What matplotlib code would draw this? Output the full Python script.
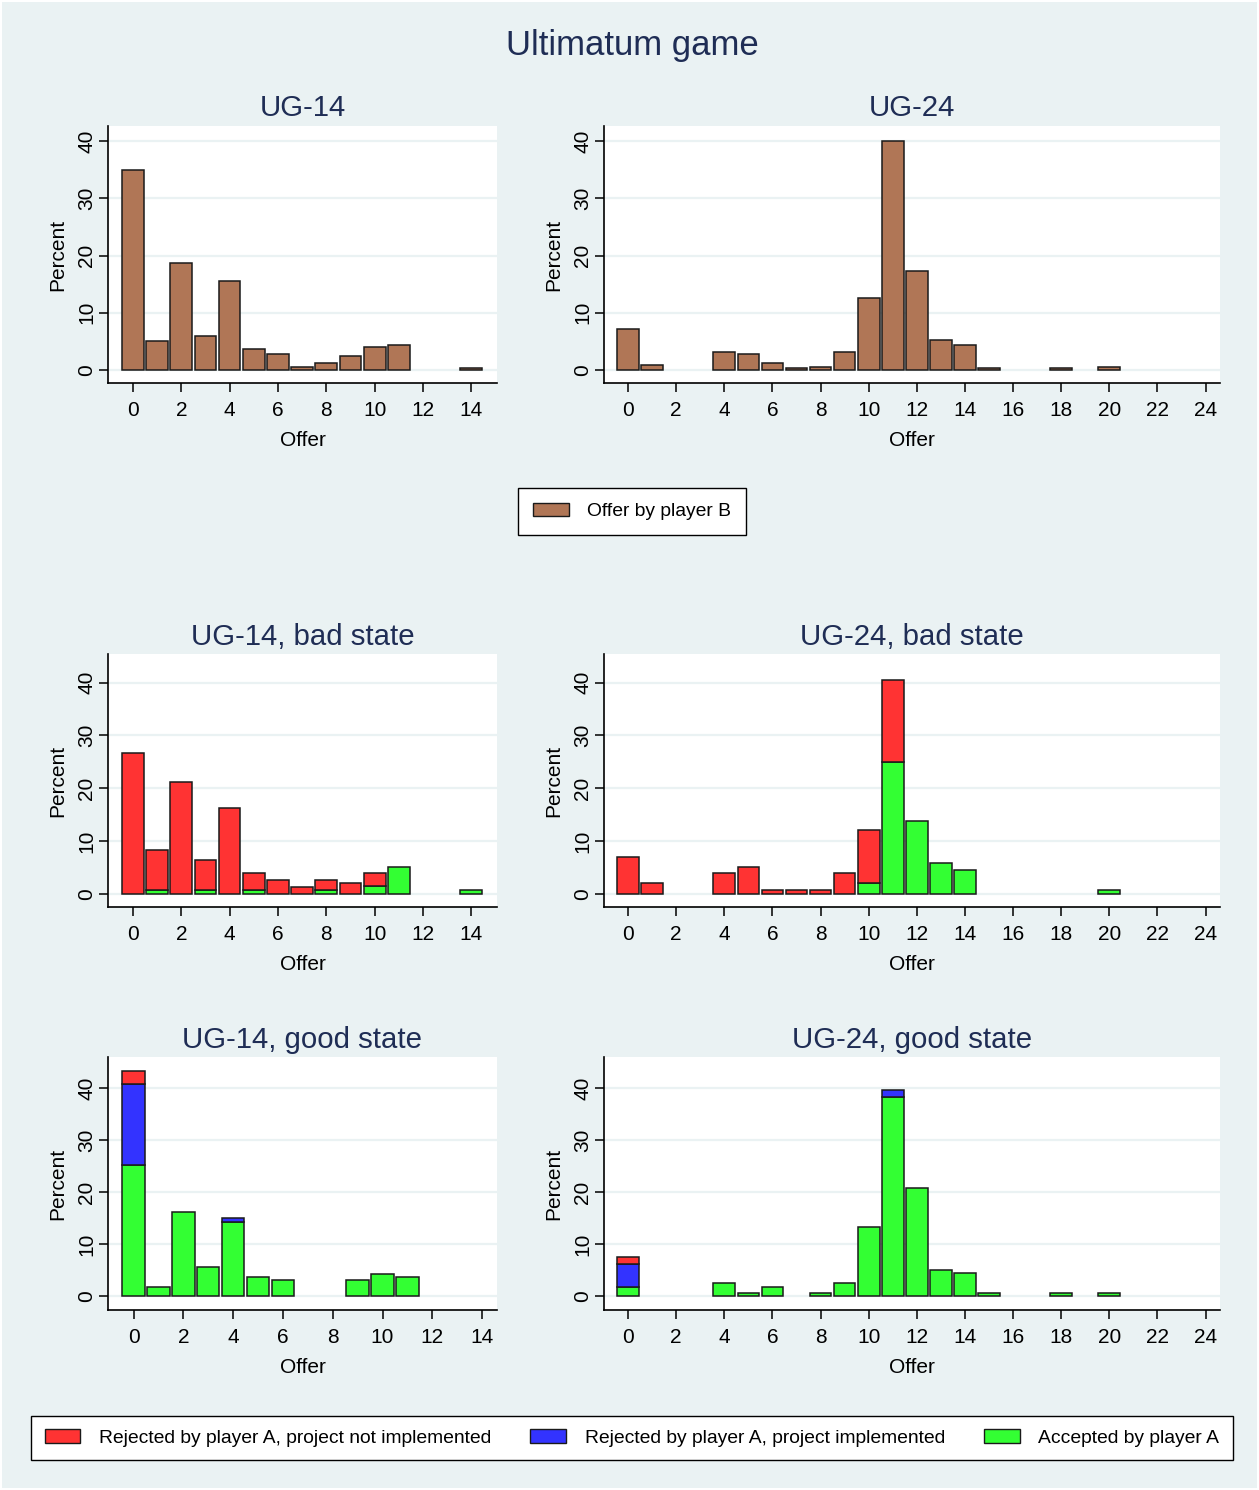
import numpy as np
import matplotlib.pyplot as plt
from matplotlib.patches import Patch, Rectangle

plt.rcParams['font.family'] = ['Liberation Sans', 'DejaVu Sans']

W, H = 1259, 1490
BG = '#eaf2f3'
NAVY = '#1f2d55'
BROWN = '#b07656'
RED = '#ff3333'
BLUE = '#3333ff'
GREEN = '#33ff33'
EDGE = '#1a1a1a'

OFFERS_14 = np.arange(15)
OFFERS_24 = np.arange(25)

# ── offer by player B (percent) ──────────────────────────────────────────────
UG14_ALL = [34.9, 5.1, 18.7, 6.0, 15.6, 3.7, 2.8, 0.6, 1.3, 2.5, 4.1, 4.4, 0, 0, 0.4]
UG24_ALL = [7.2, 0.9, 0, 0, 3.2, 2.8, 1.3, 0.4, 0.6, 3.2, 12.6, 40.0, 17.3,
            5.3, 4.4, 0.4, 0, 0, 0.4, 0, 0.6, 0, 0, 0, 0]

# ── bad state: accepted / rejected, not implemented ─────────────────────────
UG14_BAD_ACC = [0, 0.7, 0, 0.7, 0, 0.7, 0, 0, 0.7, 0, 1.4, 5.1, 0, 0, 0.7]
UG14_BAD_REJ = [26.7, 7.6, 21.1, 5.7, 16.3, 3.3, 2.6, 1.3, 1.9, 2.0, 2.6, 0, 0, 0, 0]
UG24_BAD_ACC = [0, 0, 0, 0, 0, 0, 0, 0, 0, 0, 2.0, 25.0, 13.8, 5.8, 4.5,
                0, 0, 0, 0, 0, 0.7, 0, 0, 0, 0]
UG24_BAD_REJ = [7.0, 2.0, 0, 0, 4.0, 5.1, 0.7, 0.7, 0.7, 4.0, 10.0, 15.4, 0, 0, 0,
                0, 0, 0, 0, 0, 0, 0, 0, 0, 0]

# ── good state: accepted / rejected implemented / rejected not implemented ──
UG14_GOOD_ACC = [25.2, 1.9, 16.3, 5.6, 14.4, 3.8, 3.1, 0, 0, 3.1, 4.4, 3.8, 0, 0, 0]
UG14_GOOD_IMP = [15.6, 0, 0, 0, 0.6, 0, 0, 0, 0, 0, 0, 0, 0, 0, 0]
UG14_GOOD_REJ = [2.5, 0, 0, 0, 0, 0, 0, 0, 0, 0, 0, 0, 0, 0, 0]
UG24_GOOD_ACC = [1.9, 0, 0, 0, 2.6, 0.6, 1.9, 0, 0.6, 2.6, 13.3, 38.3, 20.8,
                 5.1, 4.5, 0.6, 0, 0, 0.6, 0, 0.6, 0, 0, 0, 0]
UG24_GOOD_IMP = [4.3, 0, 0, 0, 0, 0, 0, 0, 0, 0, 0, 1.4, 0, 0, 0,
                 0, 0, 0, 0, 0, 0, 0, 0, 0, 0]
UG24_GOOD_REJ = [1.4, 0, 0, 0, 0, 0, 0, 0, 0, 0, 0, 0, 0, 0, 0,
                 0, 0, 0, 0, 0, 0, 0, 0, 0, 0]

TITLES = ["UG-14", "UG-24", "UG-14, bad state", "UG-24, bad state",
          "UG-14, good state", "UG-24, good state"]


def px_rect(x0, y0, x1, y1):
    return [x0 / W, 1 - y1 / H, (x1 - x0) / W, (y1 - y0) / H]


def stacked(ax, x, layers):
    bottom = np.zeros(len(x))
    for vals, color in layers:
        vals = np.asarray(vals, dtype=float)
        m = vals > 0
        ax.bar(x[m], vals[m], bottom=bottom[m], width=0.9, color=color,
               edgecolor=EDGE, linewidth=1.1, zorder=2)
        bottom += vals


def style(ax, xlim, ylim, xticks, left):
    ax.set_facecolor('white')
    ax.set_xlim(*xlim)
    ax.set_ylim(*ylim)
    ax.set_xticks(xticks)
    ax.set_yticks([0, 10, 20, 30, 40])
    for s in ('top', 'right'):
        ax.spines[s].set_visible(False)
    for s in ('left', 'bottom'):
        ax.spines[s].set_linewidth(1.2)
        ax.spines[s].set_color('black')
    ax.tick_params(length=6.5, width=1.1, labelsize=15)
    ax.tick_params(axis='x', pad=6.5)
    ax.tick_params(axis='y', pad=2.0)
    plt.setp(ax.get_yticklabels(), rotation=90, va='center')
    ax.yaxis.grid(True, color=BG, lw=1.6)
    ax.set_axisbelow(True)
    ax.set_xlabel("Offer", fontsize=15, labelpad=8)
    ax.set_ylabel("Percent", fontsize=15)
    ax.yaxis.set_label_coords(-0.105 if left else -0.066, 0.5)


fig = plt.figure(figsize=(W / 100, H / 100), dpi=100, facecolor='white')
fig.patches.append(Rectangle((2 / W, 2 / H), 1 - 4 / W, 1 - 4 / H,
                             transform=fig.transFigure, facecolor=BG,
                             edgecolor='none', zorder=-10))

rects = [(108, 126, 497, 383), (604, 126, 1220, 383),
         (108, 654, 497, 907), (604, 654, 1220, 907),
         (108, 1057, 497, 1310), (604, 1057, 1220, 1310)]
axes = [fig.add_axes(px_rect(*r)) for r in rects]
ax_tl, ax_tr, ax_ml, ax_mr, ax_bl, ax_br = axes

stacked(ax_tl, OFFERS_14, [(UG14_ALL, BROWN)])
stacked(ax_tr, OFFERS_24, [(UG24_ALL, BROWN)])
stacked(ax_ml, OFFERS_14, [(UG14_BAD_ACC, GREEN), (UG14_BAD_REJ, RED)])
stacked(ax_mr, OFFERS_24, [(UG24_BAD_ACC, GREEN), (UG24_BAD_REJ, RED)])
stacked(ax_bl, OFFERS_14, [(UG14_GOOD_ACC, GREEN), (UG14_GOOD_IMP, BLUE),
                           (UG14_GOOD_REJ, RED)])
stacked(ax_br, OFFERS_24, [(UG24_GOOD_ACC, GREEN), (UG24_GOOD_IMP, BLUE),
                           (UG24_GOOD_REJ, RED)])

t14 = np.arange(0, 15, 2)
t24 = np.arange(0, 25, 2)
style(ax_tl, (-1.03, 15.06), (-2.25, 42.6), t14, True)
style(ax_tr, (-1.0, 24.6), (-2.25, 42.6), t24, False)
style(ax_ml, (-1.03, 15.06), (-2.5, 45.4), t14, True)
style(ax_mr, (-1.0, 24.6), (-2.5, 45.4), t24, False)
style(ax_bl, (-1.03, 14.6), (-2.6, 46.0), t14, True)
style(ax_br, (-1.0, 24.6), (-2.6, 46.0), t24, False)

# titles
fig.text(632 / W, 1 - 55 / H, "Ultimatum game", ha='center', va='baseline',
         fontsize=25, color=NAVY)
for ax, r, t in zip(axes, rects, TITLES):
    base = {126: 116, 654: 645, 1057: 1048}[r[1]]
    fig.text((r[0] + r[2]) / 2 / W, 1 - base / H, t, ha='center',
             va='baseline', fontsize=21.2, color=NAVY)

# legends
leg_kw = dict(loc='center', frameon=True, fancybox=False, edgecolor='black',
              facecolor='white', fontsize=13.9, handlelength=1.85,
              handleheight=0.7, handletextpad=0.95, framealpha=1)
leg1 = fig.legend(handles=[Patch(facecolor=BROWN, edgecolor=EDGE, lw=1)],
                  labels=["Offer by player B"], borderpad=0.75,
                  bbox_to_anchor=(632 / W, 1 - 511.5 / H), **leg_kw)
leg1.get_frame().set_linewidth(1.0)

leg2 = fig.legend(handles=[Patch(facecolor=RED, edgecolor=EDGE, lw=1),
                           Patch(facecolor=BLUE, edgecolor=EDGE, lw=1),
                           Patch(facecolor=GREEN, edgecolor=EDGE, lw=1)],
                  labels=["Rejected by player A, project not implemented",
                          "Rejected by player A, project implemented",
                          "Accepted by player A"],
                  ncol=3, columnspacing=2.05, borderpad=0.68,
                  bbox_to_anchor=(632 / W, 1 - 1438 / H), **leg_kw)
leg2.get_frame().set_linewidth(1.0)

fig.savefig("out.png", dpi=100, facecolor=fig.get_facecolor())
